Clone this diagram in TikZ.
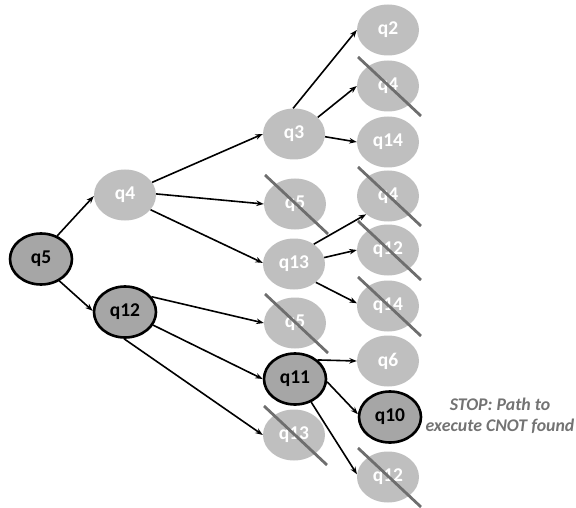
\documentclass[tikz,border=0pt]{standalone}
\usepackage{fontspec}
\setmainfont{Carlito}
\usetikzlibrary{shapes.geometric,arrows.meta,calc}
\definecolor{nodegray}{HTML}{BFBFBF}
\definecolor{actgray}{HTML}{A6A6A6}
\definecolor{crossgray}{HTML}{6E6E6E}
\definecolor{stopgray}{HTML}{737373}
\tikzset{
  qn/.style={ellipse, fill=nodegray, minimum width=62pt, minimum height=51pt, inner sep=0pt,
    text=white, font=\fontsize{19.5}{19.5}\selectfont\bfseries},
  qact/.style={qn, fill=actgray, draw=black, line width=2.6pt, text=black},
  arr/.style={-{Stealth[length=7.5pt,width=5.5pt]}, line width=1.6pt, black},
  xline/.style={crossgray, line width=2.8pt},
}
\begin{document}
\begin{tikzpicture}[x=1pt,y=-1pt]
\useasboundingbox (0,0) rectangle (576,508);
% column 0-1
\node[qact] (q5) at (41,259) {q5};
\node[qn] (q4) at (125,195) {q4};
\node[qact] (q12) at (125,312) {q12};
% column 2
\node[qn] (q3) at (294,134) {q3};
\node[qn] (q5b) at (295,204) {q5};
\node[qn] (q13) at (294,264) {q13};
\node[qn] (q5c) at (295,323) {q5};
\node[qact] (q11) at (295,379) {q11};
\node[qn] (q13b) at (294,435) {q13};
% column 3
\node[qn] (q2) at (388,30) {q2};
\node[qn] (q4b) at (388,86) {q4};
\node[qn] (q14) at (388,142) {q14};
\node[qn] (q4c) at (388,196) {q4};
\node[qn] (q12b) at (388,250) {q12};
\node[qn] (q14b) at (388,306) {q14};
\node[qn] (q6) at (388,361) {q6};
\node[qact] (q10) at (390,417) {q10};
\node[qn] (q12c) at (388,477) {q12};
% text
\node[text=stopgray, font=\fontsize{17.8}{21}\selectfont\bfseries\itshape, align=center] (stop) at (500,416) {STOP: Path to\\execute CNOT found};
% arrows
\draw[arr] (q5.55) -- (q4.182);
\draw[arr] (q5.-50) -- (q12.178);
\draw[arr] (q4.25) -- (q3.180);
\draw[arr] (q4.2) -- (q5b.180);
\draw[arr] (q4.-30) -- (q13.178);
\draw[arr] (q3.92) -- (q2.180);
\draw[arr] (q3.35) -- (q4b.180);
\draw[arr] (q3.-5) -- (q14.180);
\draw[arr] (q13.45) -- (q4c.-140);
\draw[arr] (q13.12) -- (q12b.180);
\draw[arr] (q13.-40) -- (q14b.175);
\draw[arr] (q12.30) -- (q5c.180);
\draw[arr] (q12.-25) -- (q11.180);
\draw[arr] (q12.-92) -- (q13b.180);
\draw[arr] (q11.40) -- (q6.180);
\draw[arr] (q11.-5) -- (q10.175);
\draw[arr] (q11.-55) -- (q12c.175);
% cross-outs
\foreach \n in {q5b,q5c,q13b,q4b,q4c,q12b,q14b,q12c}{
  \draw[xline] ($(\n.center)+(-30,-29)$) -- ($(\n.center)+(33,30)$);
}
\end{tikzpicture}
\end{document}
